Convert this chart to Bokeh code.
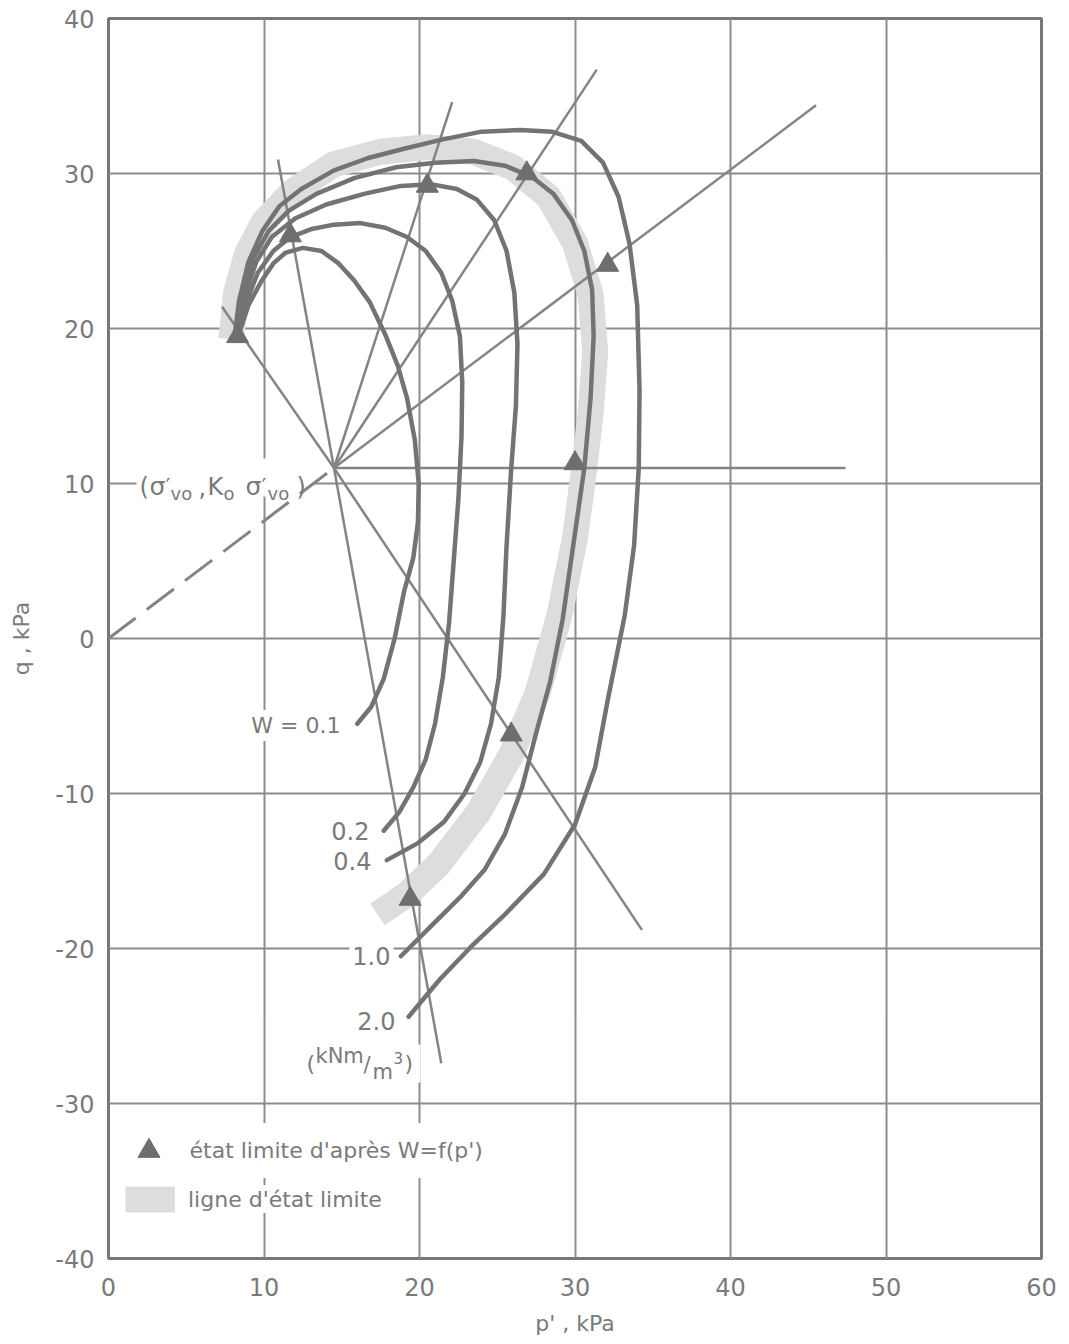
from bokeh.plotting import figure
from bokeh.models import (Label, BoxAnnotation, Legend, LegendItem, FixedTicker,
                          PrintfTickFormatter)
from bokeh.embed import file_html
from bokeh.resources import INLINE

# ---------------------------------------------------------------------------
# Stress paths in the p'-q plane (kPa) for several work levels W (kNm/m3)
# ---------------------------------------------------------------------------
W_LEVELS = ["W = 0.1", "0.2", "0.4", "1.0", "2.0"]

w01_p = [8.4, 9.0, 9.8, 10.6, 11.4, 12.5, 13.7, 14.8, 15.8, 16.8, 17.8, 18.6,
         19.2, 19.7, 19.95, 19.9, 19.6, 19.0, 18.4, 17.7, 16.9, 16.0]
w01_q = [19.7, 21.5, 23.0, 24.2, 24.9, 25.2, 25.0, 24.2, 23.1, 21.7, 19.6, 17.6,
         15.5, 12.8, 10.0, 7.5, 5.2, 3.0, 0.0, -2.6, -4.4, -5.5]

w02_p = [8.4, 8.9, 9.6, 10.6, 11.7, 13.0, 14.5, 16.2, 17.8, 19.2, 20.4, 21.4,
         22.1, 22.6, 22.75, 22.7, 22.5, 22.2, 21.9, 21.5, 21.0, 20.4, 19.6, 18.7, 17.7]
w02_q = [19.7, 21.8, 23.6, 25.0, 25.9, 26.4, 26.7, 26.8, 26.5, 25.9, 25.0, 23.6,
         21.8, 19.5, 16.5, 13.0, 9.0, 5.0, 1.0, -2.5, -5.5, -7.8, -9.6, -11.2, -12.4]

w04_p = [8.3, 8.8, 9.5, 10.5, 12.0, 14.0, 16.5, 18.8, 20.8, 22.4, 23.7, 24.8, 25.6,
         26.1, 26.3, 26.2, 25.9, 25.6, 25.4, 25.1, 24.6, 23.9, 22.9, 21.6, 19.9, 17.9]
w04_q = [19.6, 22.2, 24.3, 25.9, 27.1, 28.0, 28.7, 29.2, 29.3, 29.0, 28.3, 27.0, 25.0,
         22.3, 19.0, 15.0, 11.0, 6.0, 1.5, -2.5, -5.5, -8.0, -10.0, -11.8, -13.2, -14.3]

w10_p = [8.2, 8.6, 9.3, 10.3, 11.6, 13.4, 15.8, 18.5, 21.0, 23.5, 25.5, 27.2, 28.6,
         29.8, 30.6, 31.1, 31.2, 31.0, 30.6, 30.0, 29.2, 28.4, 27.5, 26.6, 25.5, 24.2,
         22.7, 21.0, 18.8]
w10_q = [19.5, 22.0, 24.5, 26.3, 27.6, 28.7, 29.7, 30.4, 30.7, 30.8, 30.5, 29.8, 28.7,
         27.0, 25.0, 22.5, 19.5, 15.5, 11.0, 6.8, 1.2, -2.8, -6.1, -9.6, -12.6, -14.9,
         -16.6, -18.3, -20.5]

w20_p = [8.1, 8.4, 9.0, 9.9, 11.0, 12.4, 14.5, 16.7, 19.0, 21.5, 24.0, 26.5, 28.5,
         30.4, 31.8, 32.8, 33.5, 34.0, 34.15, 34.1, 33.8, 33.2, 32.6, 32.1, 31.3, 30.0,
         28.0, 25.5, 23.3, 21.3, 19.3]
w20_q = [19.5, 21.8, 24.3, 26.3, 27.9, 29.0, 30.2, 31.0, 31.6, 32.2, 32.7, 32.8, 32.7,
         32.1, 30.7, 28.5, 25.5, 21.5, 16.0, 11.0, 6.0, 1.5, -1.5, -4.0, -8.3, -12.0,
         -15.2, -17.8, -19.9, -22.0, -24.4]

# limit-state line (ligne d'état limite)
limit_p = [7.9, 8.2, 8.9, 10.0, 11.8, 14.5, 17.5, 20.5, 23.5, 26.0, 28.3, 30.0, 31.0,
           31.3, 31.0, 30.6, 30.0, 29.0, 27.6, 25.9, 23.8, 21.2, 19.2, 17.3]
limit_q = [19.3, 22.3, 24.8, 26.9, 28.8, 30.6, 31.4, 31.7, 31.4, 30.4, 28.5, 25.5, 22.2,
           18.5, 14.5, 11.0, 6.5, 1.5, -3.5, -7.5, -11.2, -14.6, -16.5, -17.8]

# limit states deduced from W = f(p')
limit_pts_p = [8.3, 11.7, 20.5, 26.9, 32.1, 30.0, 25.9, 19.4]
limit_pts_q = [19.5, 26.0, 29.2, 30.0, 24.1, 11.3, -6.2, -16.8]

# initial state (sigma'vo, K0 sigma'vo) and the imposed path directions
origin_p, origin_q = 14.5, 11.0
dir_end_p = [7.3, 34.3, 10.9, 21.4, 22.1, 31.4, 45.5, 47.4]
dir_end_q = [21.4, -18.8, 30.9, -27.4, 34.6, 36.7, 34.4, 11.0]

# ---------------------------------------------------------------------------
FONT = "DejaVu Sans"
INK = "#7a7a7a"
CURVE = "#737373"
THIN = "#848484"

p = figure(width=1069, height=1344, x_range=(0, 60), y_range=(-40, 40),
           output_backend="svg", toolbar_location=None,
           min_border_left=108, min_border_right=28,
           min_border_top=18, min_border_bottom=86,
           background_fill_color="white", border_fill_color="white")

p.xaxis.ticker = FixedTicker(ticks=list(range(0, 61, 10)))
p.yaxis.ticker = FixedTicker(ticks=list(range(-40, 41, 10)))
p.axis.formatter = PrintfTickFormatter(format="%d")
p.axis.axis_line_color = None
p.axis.major_tick_in = 0
p.axis.major_tick_out = 0
p.axis.minor_tick_line_color = None
p.axis.major_label_text_font = FONT
p.axis.major_label_text_font_size = "24px"
p.axis.major_label_text_color = INK
p.xaxis.major_label_standoff = 19
p.yaxis.major_label_standoff = 14
p.xaxis.axis_label = "p' , kPa"
p.yaxis.axis_label = "q , kPa"
p.axis.axis_label_text_font = FONT
p.axis.axis_label_text_font_size = "22px"
p.axis.axis_label_text_font_style = "normal"
p.axis.axis_label_text_color = INK
p.xaxis.axis_label_standoff = 12
p.yaxis.axis_label_standoff = 18

p.grid.grid_line_color = "#8c8c8c"
p.grid.grid_line_width = 2
p.outline_line_color = "#777777"
p.outline_line_width = 3


def px_x(px):
    return (px - 108) / 15.55


def px_y(py):
    return (638 - py) / 15.5


def note(text, px, py, size="22px", align="left", baseline="middle", bg=False):
    lab = Label(x=px_x(px), y=px_y(py), text=text, text_font=FONT,
                text_font_size=size, text_color=INK, text_align=align,
                text_baseline=baseline)
    if bg:
        lab.background_fill_color = "white"
        lab.padding = 3
        lab.level = "underlay"
    p.add_layout(lab)
    return lab


# limit-state band underneath everything else
band = p.line(limit_p, limit_q, line_width=26, line_color="#dddddd",
              line_join="round", line_cap="butt")

# imposed stress-path directions from the initial state
p.multi_line(xs=[[origin_p, ex] for ex in dir_end_p],
             ys=[[origin_q, ey] for ey in dir_end_q],
             line_color=THIN, line_width=2.5)
p.line([0, origin_p], [0, origin_q], line_color=THIN, line_width=3,
       line_dash="34 14")

# constant-work contours
for xs, ys in [(w01_p, w01_q), (w02_p, w02_q), (w04_p, w04_q),
               (w10_p, w10_q), (w20_p, w20_q)]:
    p.line(xs, ys, line_color=CURVE, line_width=4.5,
           line_join="round", line_cap="round")

tri = p.scatter(limit_pts_p, limit_pts_q, marker="triangle", size=22,
                fill_color="#6e6e6e", line_color="#6e6e6e")

# contour labels
note(W_LEVELS[0], 343, 725, bg=True, align="right")
note(W_LEVELS[1], 372, 830, size="24px", bg=True, align="right")
note(W_LEVELS[2], 374, 860, size="24px", bg=True, align="right")
note(W_LEVELS[3], 393, 955, size="24px", bg=True, align="right")
note(W_LEVELS[4], 398, 1020, size="24px", bg=True, align="right")

# unit label (kNm/m3)
p.add_layout(BoxAnnotation(left=px_x(303), right=px_x(420), top=px_y(1044),
                           bottom=px_y(1082), fill_color="white", fill_alpha=1,
                           line_color=None, level="underlay"))
note("(", 306, 1063, size="22px")
note("kNm", 315, 1055, size="21px")
note("/", 363, 1064, size="21px")
note("m", 372, 1071, size="21px")
note("3", 393, 1057, size="15px")
note(")", 404, 1063, size="22px")

# initial state label (sigma'vo, K0 sigma'vo)
p.add_layout(BoxAnnotation(left=px_x(136), right=px_x(312), top=px_y(458),
                           bottom=px_y(496), fill_color="white", fill_alpha=1,
                           line_color=None, level="underlay"))
for txt, x0, y0, sz in [("(", 139, 486, "24px"), ("σ", 149, 486, "25px"),
                        ("′", 165, 486, "22px"), ("vo", 170, 493, "18px"),
                        (",", 198, 486, "24px"), ("K", 207, 486, "24px"),
                        ("o", 223, 493, "18px"), ("σ", 245, 486, "25px"),
                        ("′", 261, 486, "22px"), ("vo", 267, 493, "18px"),
                        (")", 296, 486, "24px")]:
    note(txt, x0, y0, size=sz, baseline="alphabetic")

# legend
leg_style = dict(padding=0, margin=0, border_line_color=None,
                 background_fill_color="white", background_fill_alpha=1,
                 label_text_font=FONT, label_text_font_size="22px",
                 label_text_color=INK)
leg1 = Legend(items=[LegendItem(label="état limite d'après W=f(p')", renderers=[tri])],
              location=(12.5, 80.5), glyph_width=55, glyph_height=55,
              label_standoff=14, **leg_style)
leg2 = Legend(items=[LegendItem(label="ligne d'état limite", renderers=[band])],
              location=(17, 45), glyph_width=50, glyph_height=28,
              label_standoff=13, **leg_style)
p.add_layout(leg1)
p.add_layout(leg2)

open("out.html", "w").write(file_html(p, INLINE))
